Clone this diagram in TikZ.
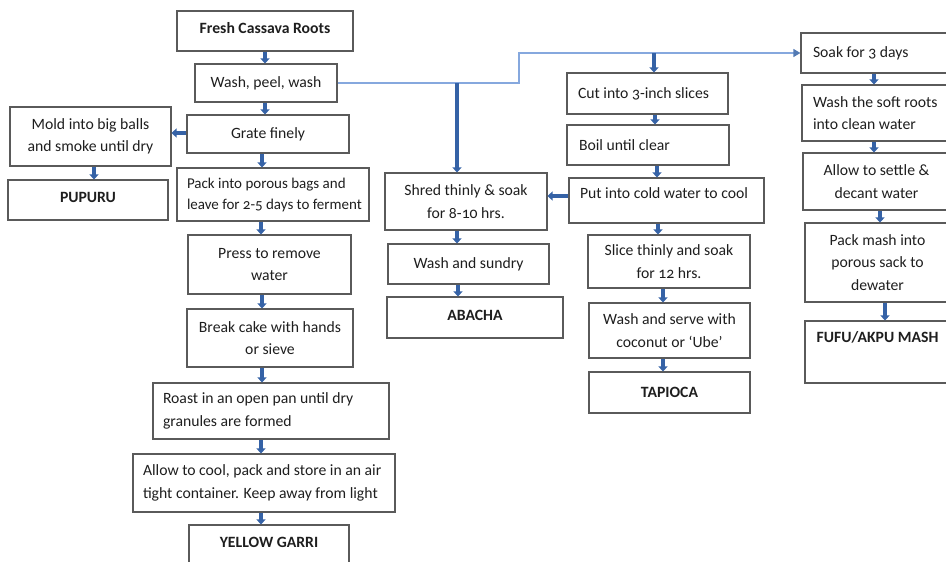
\documentclass[tikz,border=0pt]{standalone}
\usepackage{fontspec}
\setmainfont{Carlito}[Numbers=OldStyle]
\usetikzlibrary{arrows.meta}
\definecolor{boxline}{HTML}{5A5A5A}
\definecolor{flowblue}{HTML}{3562A6}
\definecolor{linkblue}{HTML}{86A8DE}
\definecolor{inktext}{HTML}{1E1E1E}
\begin{document}
\begin{tikzpicture}[x=1pt,y=-1pt,
  txt/.style={font=\fontsize{15.7}{22.5}\selectfont},
  box/.style={draw=boxline, line width=1.1pt, rectangle, inner sep=0pt, txt, text=inktext},
  cbox/.style={box, align=center},
  lbox/.style={box, align=left, text width=#1,
    execute at begin node={\spaceskip=0pt\xspaceskip=0pt\rightskip=0pt plus 1fil minus 40pt\relax}},
  endbox/.style={box, align=center, font=\fontsize{15.7}{22.5}\selectfont\bfseries},
  flow/.style={draw=flowblue, line width=3.2pt, -{Triangle[length=5pt,width=9pt]}},
  link/.style={draw=linkblue, line width=1.2pt},
  linkarrow/.style={link, -{Triangle[length=7pt,width=8pt,color=flowblue!85]}},
]
\useasboundingbox (0,0) rectangle (946,562);

% ---- main trunk and garri line ----
\node[endbox, minimum width=176pt, minimum height=40pt, text depth=6pt] (fresh) at (265,31) {Fresh Cassava Roots};
\node[cbox, minimum width=142pt, minimum height=38pt] (wash) at (266,83) {Wash, peel, wash};
\node[cbox, minimum width=162pt, minimum height=38pt] (grate) at (268,134) {Grate finely};
\node[lbox=172pt, minimum width=192pt, minimum height=53pt, font=\fontsize{15}{21}\selectfont] (pack) at (273,194.5) {Pack into porous bags and\\leave for 2-5 days to ferment};
\node[cbox, minimum width=163pt, minimum height=59pt] (press) at (269.5,264.5) {Press to remove\\water};
\node[cbox, minimum width=166pt, minimum height=58pt] (break) at (270,338) {Break cake with hands\\or sieve};
\node[lbox=216pt, minimum width=236pt, minimum height=56pt] (roast) at (271,411) {Roast in an open pan until dry\\granules are formed};
\node[lbox=242pt, minimum width=262pt, minimum height=58pt] (cool) at (264,483) {Allow to cool, pack and store in an air\\tight container. Keep away from light};
\node[endbox, minimum width=160pt, minimum height=41pt, text depth=7pt] (garri) at (269,545.5) {YELLOW GARRI};

% ---- pupuru branch ----
\node[cbox, minimum width=161pt, minimum height=59pt] (mold) at (90.5,136.5) {Mold into big balls\\and smoke until dry};
\node[endbox, minimum width=160pt, minimum height=40pt, text depth=6pt] (pupuru) at (88,200) {PUPURU};

% ---- abacha branch ----
\node[cbox, minimum width=162pt, minimum height=57pt] (shred) at (466,201.5) {Shred thinly \& soak\\for 8-10 hrs.};
\node[cbox, minimum width=161pt, minimum height=40pt] (sundry) at (468.5,264) {Wash and sundry};
\node[endbox, minimum width=176pt, minimum height=41pt, text depth=5pt] (abacha) at (475,317.5) {ABACHA};

% ---- tapioca branch ----
\node[lbox=139pt, minimum width=161pt, minimum height=41pt] (cut) at (647.5,93.5) {Cut into 3-inch slices};
\node[lbox=138pt, minimum width=162pt, minimum height=40pt] (boil) at (648,145) {Boil until clear};
\node[lbox=173pt, minimum width=195pt, minimum height=45pt, text depth=14pt] (cold) at (666.5,200.5) {Put into cold water to cool};
\node[cbox, minimum width=162pt, minimum height=53pt] (slice) at (669,261.5) {Slice thinly and soak\\for 12 hrs.};
\node[cbox, minimum width=161pt, minimum height=55pt] (serve) at (669.5,330.5) {Wash and serve with\\coconut or `Ube'};
\node[endbox, minimum width=161pt, minimum height=41pt, text depth=1pt] (tapioca) at (669.5,392.5) {TAPIOCA};

% ---- fufu branch ----
\node[lbox=125pt, minimum width=149pt, minimum height=40pt] (soak) at (875.5,53) {Soak for 3 days};
\node[lbox=126pt, minimum width=148pt, minimum height=56pt] (roots) at (876,113) {Wash the soft roots\\into clean water};
\node[cbox, minimum width=147pt, minimum height=57pt] (settle) at (876.5,181.5) {Allow to settle \&\\decant water};
\node[cbox, minimum width=145pt, minimum height=79pt] (mash) at (877.5,262.5) {Pack mash into\\porous sack to\\dewater};
\node[endbox, minimum width=145pt, minimum height=62pt, text depth=30pt] (fufu) at (877.5,352) {FUFU/AKPU MASH};

% ---- thin distribution line ----
\coordinate (bend) at (519,83);
\coordinate (abachatap) at (457,83);
\coordinate (tapiocatap) at (654,53);
\draw[linkarrow] (wash.east) -- (bend) |- (soak.west);

% ---- garri line arrows ----
\draw[flow] (fresh.south) -- (fresh.south |- wash.north);
\draw[flow] ([xshift=-1pt]wash.south) -- ([xshift=-1pt]wash.south |- grate.north);
\draw[flow] ([xshift=-6pt]grate.south) -- ([xshift=-6pt]grate.south |- pack.north);
\draw[flow] ([yshift=1pt]grate.west) -- ([yshift=1pt]grate.west -| mold.east);
\draw[flow] ([xshift=3.5pt]mold.south) -- ([xshift=3.5pt]mold.south |- pupuru.north);
\draw[flow] ([xshift=-12pt]pack.south) -- ([xshift=-12pt]pack.south |- press.north);
\draw[flow] ([xshift=-7.5pt]press.south) -- ([xshift=-7.5pt]press.south |- break.north);
\draw[flow] ([xshift=-8pt]break.south) -- ([xshift=-8pt]break.south |- roast.north);
\draw[flow] ([xshift=-10pt]roast.south) -- ([xshift=-10pt]roast.south |- cool.north);
\draw[flow] ([xshift=-3pt]cool.south) -- ([xshift=-3pt]cool.south |- garri.north);

% ---- abacha arrows ----
\draw[flow] (abachatap) -- (abachatap |- shred.north);
\draw[flow] ([xshift=-9pt]shred.south) -- ([xshift=-9pt]shred.south |- sundry.north);
\draw[flow] ([xshift=-10.5pt]sundry.south) -- ([xshift=-10.5pt]sundry.south |- abacha.north);
\draw[flow] ([yshift=4.5pt]cold.west) -- ([yshift=4.5pt]cold.west -| shred.east);

% ---- tapioca arrows ----
\draw[flow] (tapiocatap) -- (tapiocatap |- cut.north);
\draw[flow] ([xshift=7.5pt]cut.south) -- ([xshift=7.5pt]cut.south |- boil.north);
\draw[flow] ([xshift=9pt]boil.south) -- ([xshift=9pt]boil.south |- cold.north);
\draw[flow] ([xshift=-8.5pt]cold.south) -- ([xshift=-8.5pt]cold.south |- slice.north);
\draw[flow] ([xshift=-6pt]slice.south) -- ([xshift=-6pt]slice.south |- serve.north);
\draw[flow] ([xshift=-6.5pt]serve.south) -- ([xshift=-6.5pt]serve.south |- tapioca.north);

% ---- fufu arrows ----
\draw[flow] ([xshift=-1.5pt]soak.south) -- ([xshift=-1.5pt]soak.south |- roots.north);
\draw[flow] ([xshift=-2pt]roots.south) -- ([xshift=-2pt]roots.south |- settle.north);
\draw[flow] ([xshift=3.5pt]settle.south) -- ([xshift=3.5pt]settle.south |- mash.north);
\draw[flow] ([xshift=7.5pt]mash.south) -- ([xshift=7.5pt]mash.south |- fufu.north);
\end{tikzpicture}
\end{document}
